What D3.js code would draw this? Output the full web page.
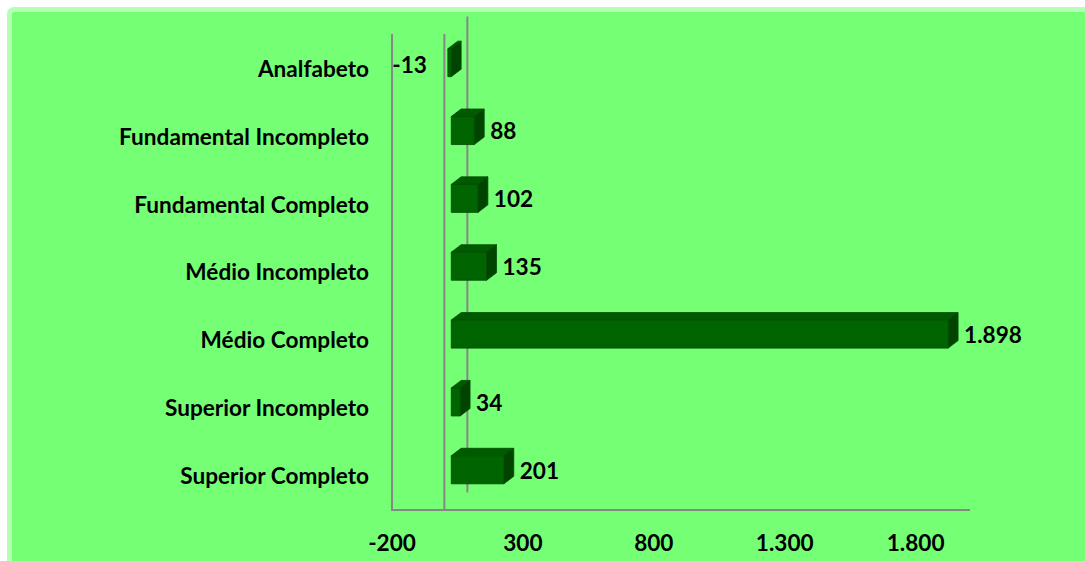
<!DOCTYPE html>
<html>
<head>
<meta charset="utf-8">
<script src="https://cdn.jsdelivr.net/npm/d3@7"></script>
<style>
  html, body { margin: 0; padding: 0; background: #ffffff; }
  svg { display: block; }
  text { font-family: Lato, "Open Sans", sans-serif; font-weight: bold; fill: #000; }
</style>
</head>
<body>
<svg id="chart" width="1085" height="561"></svg>
<script>
const categories = ["Analfabeto", "Fundamental Incompleto", "Fundamental Completo", "Médio Incompleto", "Médio Completo", "Superior Incompleto", "Superior Completo"];
const values = [-13, 88, 102, 135, 1898, 34, 201];
const tickValues = [-200, 300, 800, 1300, 1800];
const domainX = [-200, 2000];

(function () {
const W = 1085, H = 561;
const svg = d3.select("#chart");
const FS = 22.6;

const bg = "#75ff75";
// outer chart area
svg.append("rect").attr("x", 9.5).attr("y", 9.5).attr("width", W + 20).attr("height", H + 20)
  .attr("rx", 4).attr("fill", bg).attr("stroke", "#b4ffb4").attr("stroke-width", 5);

const pLeft = 392, pRight = 968, pTop = 34, pBottom = 509;
const depthX = 23, depthY = -17.5;
const f1 = 0.3, f2 = 0.73; // bar depth fractions

const x = d3.scaleLinear().domain(domainX).range([pLeft, pRight]);
const y = d3.scaleBand().domain(categories).range([pTop, pBottom]);
const barH = 28;

const loc = d3.formatLocale({ decimal: ",", thousands: ".", grouping: [3], currency: ["R$", ""], minus: "-" });
const fmt = loc.format(",d");

const grid = svg.append("g").attr("stroke", "#878787").attr("stroke-width", 2).attr("fill", "none");
// back zero line
grid.append("line").attr("x1", x(0) + depthX).attr("x2", x(0) + depthX)
  .attr("y1", pTop + depthY).attr("y2", pBottom + depthY + 1);
// left wall line
grid.append("line").attr("x1", x(domainX[0])).attr("x2", x(domainX[0]))
  .attr("y1", pTop).attr("y2", pBottom + 1);
// front zero line
grid.append("line").attr("x1", x(0)).attr("x2", x(0))
  .attr("y1", pTop).attr("y2", pBottom + 1);
// floor line
grid.append("line").attr("x1", x(domainX[0]) - 1).attr("x2", x(domainX[1]) + 2)
  .attr("y1", pBottom + 1).attr("y2", pBottom + 1);

// bars
const bars = svg.append("g");
categories.forEach((c, i) => {
  const v = values[i];
  const x0 = Math.min(x(0), x(v)), x1 = Math.max(x(0), x(v));
  const fx = depthX * f1, fy = depthY * f1;
  const dx = depthX * (f2 - f1), dy = depthY * (f2 - f1);
  const cy = y(c) + y.bandwidth() / 2 + fy;
  const yt = cy - barH / 2, yb = cy + barH / 2;
  const ax = x0 + fx, bx = x1 + fx;
  const g = bars.append("g").attr("stroke", "#004a00").attr("stroke-width", 0.8).attr("stroke-linejoin", "round");
  // top face
  g.append("path").attr("fill", "#005a00")
    .attr("d", `M${ax},${yt} L${ax + dx},${yt + dy} L${bx + dx},${yt + dy} L${bx},${yt} Z`);
  // side face
  g.append("path").attr("fill", "#004400")
    .attr("d", `M${bx},${yt} L${bx + dx},${yt + dy} L${bx + dx},${yb + dy} L${bx},${yb} Z`);
  // front face
  g.append("rect").attr("fill", "#006400")
    .attr("x", ax).attr("y", yt).attr("width", Math.max(bx - ax, 0.5)).attr("height", barH);

  // value label
  const lbl = svg.append("text").attr("font-size", FS).attr("dy", "0.35em").text(fmt(v));
  if (v >= 0) {
    lbl.attr("x", bx + dx + 6).attr("y", cy + 1).attr("text-anchor", "start");
  } else {
    lbl.attr("x", ax - 21).attr("y", cy + 2).attr("text-anchor", "end");
  }
});

// category labels
svg.append("g").selectAll("text").data(categories).join("text")
  .attr("x", 369).attr("y", d => y(d) + y.bandwidth() / 2 + 1)
  .attr("dy", "0.35em").attr("text-anchor", "end").attr("font-size", FS)
  .text(d => d);

// x axis tick labels
svg.append("g").selectAll("text").data(tickValues).join("text")
  .attr("x", d => x(d)).attr("y", 543).attr("dy", "0.35em")
  .attr("text-anchor", "middle").attr("font-size", FS)
  .text(d => fmt(d));
})();
</script>
</body>
</html>
